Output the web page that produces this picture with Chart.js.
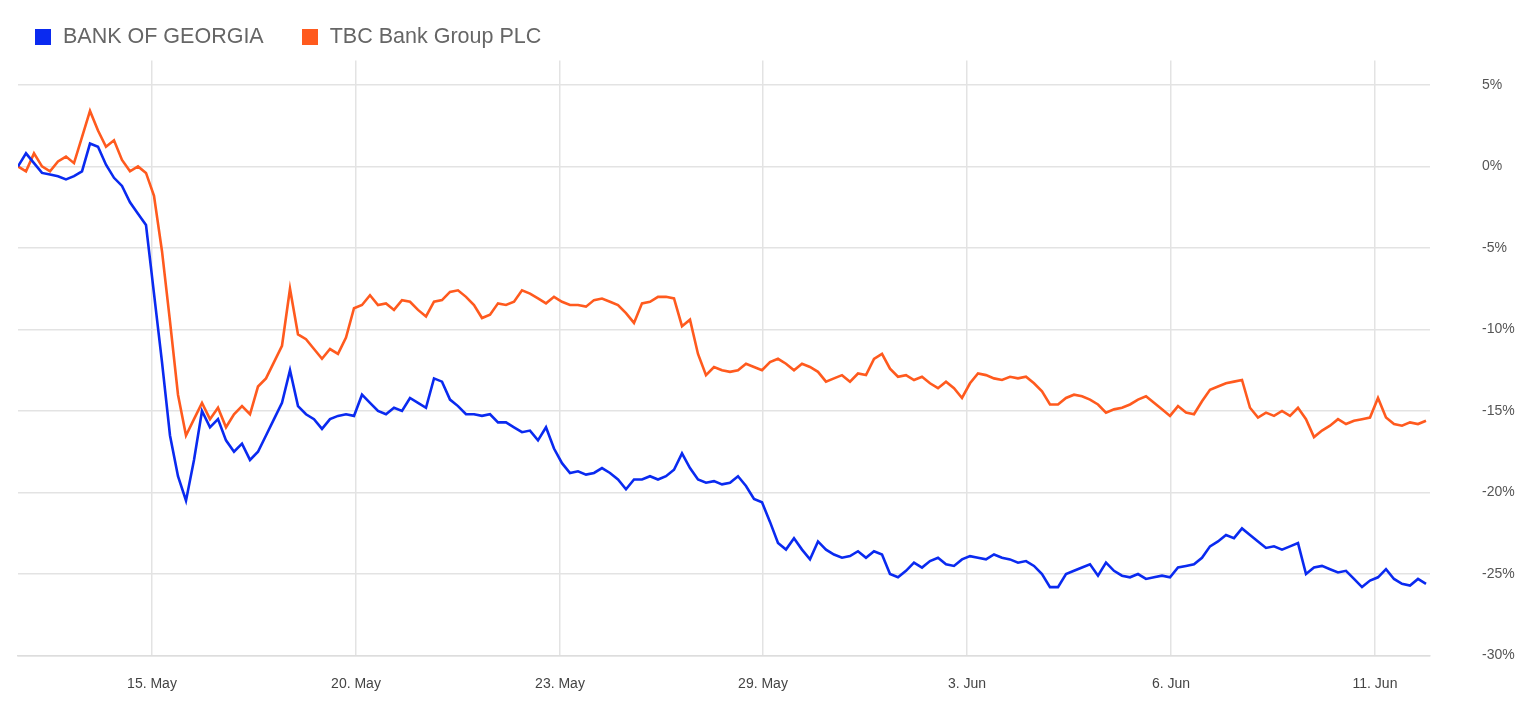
<!DOCTYPE html>
<html><head><meta charset="utf-8">
<script src="https://cdn.jsdelivr.net/npm/chart.js@4"></script>
<style>
html,body{margin:0;padding:0;background:#fff;width:1536px;height:716px;overflow:hidden;font-family:"Liberation Sans",Arial,sans-serif}
#wrap{position:relative;width:1536px;height:716px}
#legend{position:absolute;left:35px;top:24px;font-size:21.5px;color:#666;display:flex;align-items:center;z-index:2}
.sw{display:inline-block;width:16px;height:16px;margin-right:12px}
.it{display:flex;align-items:center;margin-right:38px}
</style></head><body>
<div id="wrap"><canvas id="c" width="1536" height="716"></canvas>
<div id="legend"><span class="it"><span class="sw" style="background:#0a2af0"></span>BANK OF GEORGIA</span><span class="it"><span class="sw" style="background:#ff5a1e"></span>TBC Bank Group PLC</span></div></div>
<script>
const seriesNames=["BANK OF GEORGIA","TBC Bank Group PLC"];
const bankOfGeorgia=[0,0.8,0.2,-0.4,-0.5,-0.6,-0.8,-0.6,-0.3,1.4,1.2,0.1,-0.7,-1.2,-2.2,-2.9,-3.6,-7.8,-12,-16.5,-19,-20.5,-18,-15,-16,-15.5,-16.8,-17.5,-17,-18,-17.5,-16.5,-15.5,-14.5,-12.5,-14.7,-15.2,-15.5,-16.1,-15.5,-15.3,-15.2,-15.3,
-14,-14.5,-15,-15.2,-14.8,-15,-14.2,-14.5,-14.8,-13,-13.2,-14.3,-14.7,-15.2,-15.2,-15.3,-15.2,-15.7,-15.7,-16,-16.3,-16.2,-16.8,-16,-17.3,-18.2,-18.8,-18.7,-18.9,-18.8,-18.5,-18.8,-19.2,-19.8,-19.2,-19.2,-19,-19.2,-19,-18.6,-17.6,-18.5,-19.2,-19.4,-19.3,-19.5,-19.4,-19,-19.6,-20.4,-20.6,-21.8,-23.1,-23.5,-22.8,-23.5,-24.1,-23,-23.5,-23.8,-24,-23.9,-23.6,-24,-23.6,-23.8,-25,-25.2,-24.8,-24.3,-24.6,-24.2,-24,-24.4,-24.5,-24.1,-23.9,-24,-24.1,-23.8,-24,-24.1,-24.3,-24.2,-24.5,-25,-25.8,-25.8,-25,-24.8,-24.6,-24.4,-25.1,-24.3,-24.8,-25.1,-25.2,-25,-25.3,-25.2,-25.1,-25.2,-24.6,-24.5,-24.4,-24,-23.3,-23,-22.6,-22.8,-22.2,-22.6,-23,-23.4,-23.3,-23.5,-23.3,-23.1,-25,-24.6,-24.5,-24.7,-24.9,-24.8,-25.3,-25.8,-25.4,-25.2,-24.7,-25.3,-25.6,-25.7,-25.3,-25.6];
const tbcBank=[0,-0.3,0.8,0,-0.3,0.3,0.6,0.2,1.8,3.4,2.2,1.2,1.6,0.4,-0.3,0,-0.4,-1.8,-5.2,-9.5,-14,-16.5,-15.5,-14.5,-15.5,-14.8,-16,-15.2,-14.7,-15.2,-13.5,-13,-12,-11,-7.5,-10.3,-10.6,-11.2,-11.8,-11.2,-11.5,-10.5,-8.7,
-8.5,-7.9,-8.5,-8.4,-8.8,-8.2,-8.3,-8.8,-9.2,-8.3,-8.2,-7.7,-7.6,-8,-8.5,-9.3,-9.1,-8.4,-8.5,-8.3,-7.6,-7.8,-8.1,-8.4,-8,-8.3,-8.5,-8.5,-8.6,-8.2,-8.1,-8.3,-8.5,-9,-9.6,-8.4,-8.3,-8,-8,-8.1,-9.8,-9.4,-11.5,-12.8,-12.3,-12.5,-12.6,-12.5,-12.1,-12.3,-12.5,-12,-11.8,-12.1,-12.5,-12.1,-12.3,-12.6,-13.2,-13,-12.8,-13.2,-12.7,-12.8,-11.8,-11.5,-12.4,-12.9,-12.8,-13.1,-12.9,-13.3,-13.6,-13.2,-13.6,-14.2,-13.3,-12.7,-12.8,-13,-13.1,-12.9,-13,-12.9,-13.3,-13.8,-14.6,-14.6,-14.2,-14,-14.1,-14.3,-14.6,-15.1,-14.9,-14.8,-14.6,-14.3,-14.1,-14.5,-14.9,-15.3,-14.7,-15.1,-15.2,-14.4,-13.7,-13.5,-13.3,-13.2,-13.1,-14.8,-15.4,-15.1,-15.3,-15,-15.3,-14.8,-15.5,-16.6,-16.2,-15.9,-15.5,-15.8,-15.6,-15.5,-15.4,-14.2,-15.4,-15.8,-15.9,-15.7,-15.8,-15.6];
const xTickLabels=["15. May","20. May","23. May","29. May","3. Jun","6. Jun","11. Jun"];
const xTickIndex=[16.75,42.25,67.75,93.125,118.625,144.125,169.625];
const yTicks=[5,0,-5,-10,-15,-20,-25,-30];
const toPts=a=>a.map((v,i)=>({x:i,y:v}));
const fixArea={id:'fixArea',afterLayout(c){}};
new Chart(document.getElementById('c'),{
 type:'line',
 data:{datasets:[
  {label:seriesNames[0],data:toPts(bankOfGeorgia),borderColor:'#0a2af0',borderWidth:2.6,pointRadius:0,tension:0},
  {label:seriesNames[1],data:toPts(tbcBank),borderColor:'#ff5a1e',borderWidth:2.6,pointRadius:0,tension:0}]},
 options:{responsive:false,animation:false,
  layout:{padding:{left:18,top:-36,right:0,bottom:0}},
  plugins:{legend:{display:false},tooltip:{enabled:false}},
  scales:{
   x:{type:'linear',min:0,max:176.5,
    afterBuildTicks:s=>{s.ticks=xTickIndex.map(v=>({value:v}));},
    afterFit:s=>{s.height=46;},
    ticks:{autoSkip:false,maxRotation:0,color:'#444',font:{size:14,family:'Liberation Sans'},padding:20,
     callback:(v,i)=>xTickLabels[i]},
    grid:{color:'#e3e3e3',lineWidth:1.5,drawTicks:false},border:{color:'#ddd',width:1.5}},
   y:{position:'right',min:-30,max:6.5,
    afterBuildTicks:s=>{s.ticks=yTicks.map(v=>({value:v}));},
    afterFit:s=>{s.width=106;},
    ticks:{color:'#555',font:{size:14,family:'Liberation Sans'},padding:52,align:'center',callback:v=>v+'%'},
    grid:{color:'#e3e3e3',lineWidth:1.5,drawTicks:false},border:{display:false}}
  }}
});
</script></body></html>
